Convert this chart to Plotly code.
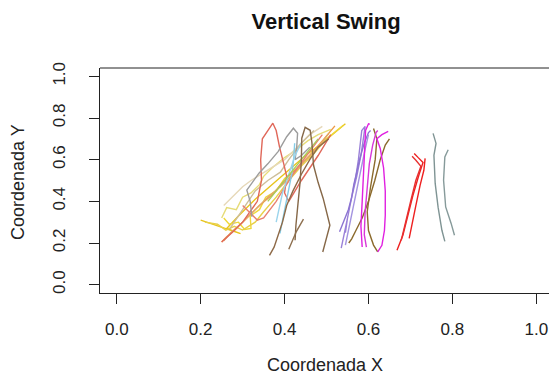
import plotly.graph_objects as go

# ---- data: trajectories (x, y) ----
t_x = {}
t_y = {}
t_c = {}

# left cluster
t_x["gold1"] = [0.200, 0.235, 0.268, 0.295, 0.262, 0.290, 0.330, 0.370, 0.410, 0.450, 0.490, 0.520, 0.545]
t_y["gold1"] = [0.310, 0.287, 0.262, 0.245, 0.270, 0.330, 0.410, 0.480, 0.550, 0.620, 0.680, 0.730, 0.772]
t_c["gold1"] = "#E8C41C"

t_x["yellow2"] = [0.255, 0.268, 0.290, 0.305, 0.320, 0.318, 0.340, 0.355, 0.380, 0.400, 0.430, 0.460, 0.500, 0.540]
t_y["yellow2"] = [0.320, 0.290, 0.300, 0.265, 0.270, 0.330, 0.360, 0.420, 0.450, 0.510, 0.560, 0.620, 0.700, 0.765]
t_c["yellow2"] = "#EED83A"

t_x["yellow2b"] = [0.210, 0.240, 0.260, 0.280, 0.300, 0.330, 0.350, 0.380, 0.410, 0.440, 0.470, 0.500]
t_y["yellow2b"] = [0.300, 0.290, 0.262, 0.280, 0.262, 0.300, 0.350, 0.420, 0.500, 0.570, 0.630, 0.700]
t_c["yellow2b"] = "#E8D048"

t_x["khaki3"] = [0.250, 0.262, 0.285, 0.300, 0.320, 0.340, 0.350, 0.370, 0.400, 0.430, 0.455, 0.480, 0.510]
t_y["khaki3"] = [0.320, 0.370, 0.360, 0.420, 0.440, 0.480, 0.520, 0.560, 0.610, 0.650, 0.690, 0.720, 0.745]
t_c["khaki3"] = "#E6DC78"

t_x["wheat4"] = [0.255, 0.270, 0.300, 0.320, 0.345, 0.370, 0.400, 0.430, 0.460, 0.490]
t_y["wheat4"] = [0.380, 0.410, 0.470, 0.500, 0.530, 0.560, 0.600, 0.660, 0.720, 0.760]
t_c["wheat4"] = "#E6D8B8"

t_x["tan5"] = [0.270, 0.290, 0.310, 0.330, 0.360, 0.390, 0.410, 0.440, 0.470]
t_y["tan5"] = [0.270, 0.330, 0.390, 0.450, 0.500, 0.540, 0.600, 0.680, 0.740]
t_c["tan5"] = "#CDBE9A"

t_x["orange6"] = [0.250, 0.262, 0.280, 0.310, 0.340, 0.370, 0.400, 0.430, 0.460, 0.490, 0.520]
t_y["orange6"] = [0.205, 0.230, 0.260, 0.320, 0.380, 0.430, 0.500, 0.560, 0.620, 0.690, 0.762]
t_c["orange6"] = "#EC9A44"

t_x["sandy7"] = [0.255, 0.272, 0.300, 0.330, 0.360, 0.390, 0.420, 0.450, 0.480, 0.505]
t_y["sandy7"] = [0.210, 0.250, 0.300, 0.360, 0.420, 0.470, 0.530, 0.600, 0.660, 0.725]
t_c["sandy7"] = "#E2A868"

t_x["salmon8"] = [0.250, 0.275, 0.300, 0.335, 0.345, 0.343, 0.347, 0.372, 0.380, 0.388, 0.398, 0.405, 0.400, 0.410, 0.440, 0.480, 0.510]
t_y["salmon8"] = [0.205, 0.250, 0.300, 0.400, 0.500, 0.600, 0.700, 0.775, 0.740, 0.660, 0.580, 0.520, 0.440, 0.400, 0.500, 0.620, 0.720]
t_c["salmon8"] = "#E0685A"

t_x["salmon9"] = [0.300, 0.320, 0.335, 0.350, 0.365, 0.380, 0.395, 0.410, 0.430, 0.460, 0.490]
t_y["salmon9"] = [0.380, 0.340, 0.310, 0.320, 0.360, 0.400, 0.450, 0.500, 0.560, 0.640, 0.720]
t_c["salmon9"] = "#E88070"

t_x["grey10"] = [0.322, 0.318, 0.310, 0.320, 0.339, 0.360, 0.385, 0.405, 0.421, 0.431, 0.429, 0.425, 0.440, 0.460]
t_y["grey10"] = [0.326, 0.400, 0.454, 0.480, 0.535, 0.580, 0.640, 0.710, 0.751, 0.727, 0.663, 0.600, 0.620, 0.660]
t_c["grey10"] = "#9C9C9C"

t_x["sky11"] = [0.389, 0.394, 0.400, 0.406, 0.412, 0.418, 0.422, 0.424]
t_y["sky11"] = [0.246, 0.300, 0.360, 0.420, 0.480, 0.540, 0.610, 0.679]
t_c["sky11"] = "#86CCE6"

t_x["sky12"] = [0.380, 0.388, 0.395, 0.405, 0.415, 0.425, 0.440]
t_y["sky12"] = [0.300, 0.370, 0.440, 0.500, 0.560, 0.620, 0.680]
t_c["sky12"] = "#9AD4EC"

t_x["green13"] = [0.360, 0.380, 0.400, 0.420, 0.440, 0.460, 0.480]
t_y["green13"] = [0.400, 0.450, 0.500, 0.550, 0.600, 0.650, 0.700]
t_c["green13"] = "#A8CC58"

t_x["brown14"] = [0.364, 0.375, 0.385, 0.395, 0.405, 0.420, 0.440, 0.460, 0.480, 0.505]
t_y["brown14"] = [0.141, 0.180, 0.240, 0.300, 0.380, 0.450, 0.530, 0.600, 0.660, 0.700]
t_c["brown14"] = "#8E6A48"

t_x["brown15"] = [0.425, 0.427, 0.432, 0.437, 0.440, 0.441, 0.449, 0.461, 0.465, 0.469, 0.480, 0.492, 0.508, 0.500, 0.491]
t_y["brown15"] = [0.213, 0.284, 0.390, 0.493, 0.600, 0.703, 0.755, 0.741, 0.685, 0.573, 0.490, 0.414, 0.285, 0.220, 0.157]
t_c["brown15"] = "#866848"

t_x["brown16"] = [0.410, 0.418, 0.428, 0.445]
t_y["brown16"] = [0.170, 0.205, 0.255, 0.315]
t_c["brown16"] = "#8E7050"

# middle cluster
t_x["purple17"] = [0.535, 0.540, 0.548, 0.555, 0.562, 0.570, 0.576, 0.580, 0.584, 0.592, 0.588, 0.582, 0.572, 0.560, 0.550, 0.545]
t_y["purple17"] = [0.175, 0.230, 0.300, 0.370, 0.440, 0.520, 0.600, 0.680, 0.740, 0.760, 0.700, 0.620, 0.520, 0.420, 0.320, 0.250]
t_c["purple17"] = "#9A80D8"

t_x["purple18"] = [0.531, 0.540, 0.552, 0.560, 0.565, 0.572, 0.580, 0.590, 0.600, 0.605]
t_y["purple18"] = [0.254, 0.300, 0.360, 0.420, 0.480, 0.540, 0.610, 0.680, 0.730, 0.740]
t_c["purple18"] = "#8C74D2"

t_x["purple19"] = [0.545, 0.552, 0.560, 0.566, 0.571, 0.578, 0.585, 0.592, 0.600]
t_y["purple19"] = [0.190, 0.260, 0.330, 0.390, 0.450, 0.510, 0.580, 0.650, 0.720]
t_c["purple19"] = "#A494E0"

t_x["olive20"] = [0.650, 0.640, 0.628, 0.615, 0.600, 0.585, 0.570, 0.560, 0.553]
t_y["olive20"] = [0.700, 0.670, 0.600, 0.500, 0.400, 0.320, 0.260, 0.220, 0.200]
t_c["olive20"] = "#8B6A2C"

t_x["olive21"] = [0.612, 0.620, 0.616, 0.605, 0.597, 0.600, 0.612, 0.622]
t_y["olive21"] = [0.750, 0.700, 0.600, 0.470, 0.350, 0.260, 0.190, 0.157]
t_c["olive21"] = "#8B6A2C"

t_x["magenta22"] = [0.585, 0.582, 0.585, 0.588, 0.590, 0.593, 0.600, 0.603]
t_y["magenta22"] = [0.181, 0.280, 0.400, 0.520, 0.640, 0.740, 0.772, 0.770]
t_c["magenta22"] = "#E020E0"

t_x["magenta23"] = [0.595, 0.590, 0.592, 0.597, 0.602, 0.610, 0.618, 0.622]
t_y["magenta23"] = [0.180, 0.240, 0.350, 0.470, 0.580, 0.670, 0.730, 0.740]
t_c["magenta23"] = "#D838D8"

t_x["magenta24"] = [0.622, 0.632, 0.638, 0.640, 0.640, 0.636, 0.628, 0.620, 0.632, 0.647]
t_y["magenta24"] = [0.157, 0.189, 0.260, 0.333, 0.450, 0.560, 0.654, 0.701, 0.720, 0.736]
t_c["magenta24"] = "#E020E0"

# red
t_x["red25"] = [0.668, 0.682, 0.694, 0.706, 0.720, 0.730, 0.718, 0.709]
t_y["red25"] = [0.165, 0.237, 0.333, 0.429, 0.525, 0.587, 0.611, 0.630]
t_c["red25"] = "#EE2020"

t_x["red26"] = [0.678, 0.689, 0.701, 0.713, 0.725, 0.713, 0.704]
t_y["red26"] = [0.213, 0.309, 0.405, 0.501, 0.568, 0.597, 0.616]
t_c["red26"] = "#E83030"

t_x["red27"] = [0.697, 0.704, 0.713, 0.723, 0.732, 0.735]
t_y["red27"] = [0.222, 0.285, 0.381, 0.477, 0.549, 0.606]
t_c["red27"] = "#EE2020"

# grey
t_x["grey28"] = [0.754, 0.761, 0.756, 0.759, 0.766, 0.775, 0.782]
t_y["grey28"] = [0.726, 0.678, 0.621, 0.486, 0.371, 0.261, 0.208]
t_c["grey28"] = "#7F9494"

t_x["grey29"] = [0.790, 0.782, 0.779, 0.784, 0.797, 0.805]
t_y["grey29"] = [0.648, 0.613, 0.501, 0.373, 0.294, 0.237]
t_c["grey29"] = "#869A9A"

x_ticks = [0.0, 0.2, 0.4, 0.6, 0.8, 1.0]
y_ticks = [0.0, 0.2, 0.4, 0.6, 0.8, 1.0]
x_tick_labels = ["0.0", "0.2", "0.4", "0.6", "0.8", "1.0"]
y_tick_labels = ["0.0", "0.2", "0.4", "0.6", "0.8", "1.0"]

FONT = "Liberation Sans, Arial, Helvetica, sans-serif"

fig = go.Figure()
for k in t_x:
    fig.add_trace(go.Scatter(x=t_x[k], y=t_y[k], mode="lines",
                             line=dict(color=t_c[k], width=1.4),
                             showlegend=False, hoverinfo="skip"))

fig.update_layout(
    width=549, height=376,
    margin=dict(l=100, r=0, t=68, b=83),
    paper_bgcolor="white", plot_bgcolor="white",
    title=dict(text="<b>Vertical Swing</b>", x=0.594, xref="container", xanchor="center",
               y=1 - 21 / 376, yref="container", yanchor="middle",
               font=dict(family=FONT, size=22, color="#111")),
    xaxis=dict(range=[-0.04, 1.0303], tickvals=x_ticks, ticktext=x_tick_labels,
               showgrid=False, zeroline=False, showline=True, linecolor="#222", linewidth=1,
               ticks="outside", ticklen=10, tickcolor="#222", ticklabelstandoff=11,
               tickfont=dict(family=FONT, size=17, color="#222")),
    yaxis=dict(range=[-0.04, 1.04], tickvals=y_ticks, ticktext=y_tick_labels,
               showgrid=False, zeroline=False, showline=True, linecolor="#222", linewidth=1,
               ticks="outside", ticklen=10, tickcolor="#222", tickangle=-90,
               ticklabelstandoff=17,
               tickfont=dict(family=FONT, size=17, color="#222")),
    shapes=[dict(type="line", xref="paper", yref="paper", x0=0, x1=1, y0=1, y1=1,
                 line=dict(color="#222", width=1))],
    annotations=[
        dict(text="Coordenada X", xref="paper", yref="paper", x=0.502, y=-0.32,
             xanchor="center", yanchor="middle", showarrow=False,
             font=dict(family=FONT, size=18, color="#222")),
        dict(text="Coordenada Y", xref="paper", yref="paper", x=-0.1826, y=0.493,
             xanchor="center", yanchor="middle", showarrow=False, textangle=-90,
             font=dict(family=FONT, size=18, color="#222")),
    ],
)

fig.write_html("out.html")
